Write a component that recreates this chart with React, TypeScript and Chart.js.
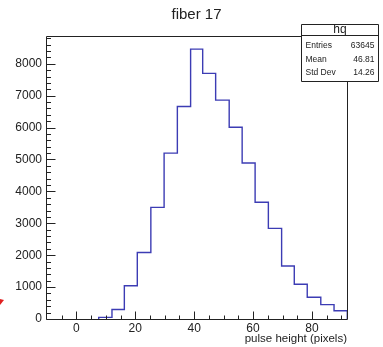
import React, { useEffect, useRef } from "react";
import { Chart, registerables } from "chart.js";

Chart.register(...registerables);

// ---- data ----
const chartTitle = "fiber 17";
const histName = "hq";
const xAxisTitle = "pulse height (pixels)";
const binEdges = [7.6, 12.1, 16.3, 20.7, 25.3, 29.8, 34.3, 38.8, 42.9, 47.3, 51.9, 56.3, 60.7, 65.2, 69.7, 74.0, 78.4, 83.0, 87.5, 92.0];
const binCounts = [50, 300, 1040, 2085, 3500, 5200, 6660, 8460, 7700, 6860, 6010, 4890, 3660, 2840, 1660, 1090, 680, 450, 260];
const xTickValues = [0, 20, 40, 60, 80];
const yTickValues = [0, 1000, 2000, 3000, 4000, 5000, 6000, 7000, 8000];
const statsLabels = ["Entries", "Mean", "Std Dev"];
const statsValues = ["63645", "46.81", "14.26"];

const X_MIN = -10.3;
const X_MAX = 91.9;
const Y_MAX = 8870;
const FONT = "'Liberation Sans', Arial, Helvetica, sans-serif";
const TEXT = "#222";
const LINE = "#222";

const rootPlugin = {
  id: "rootDecor",
  afterDatasetsDraw(chart: any) {
    const ctx = chart.ctx as CanvasRenderingContext2D;
    const xs = chart.scales.x;
    const ys = chart.scales.y;
    const { left, right, top, bottom } = chart.chartArea;
    const L = Math.round(left) + 0.5;
    const R = Math.round(right) + 0.5;
    const T = Math.round(top) + 0.5;
    const B = Math.round(bottom) + 0.5;
    ctx.save();
    ctx.strokeStyle = LINE;
    ctx.lineWidth = 1;
    // frame
    ctx.beginPath();
    ctx.rect(L, T, R - L, B - T);
    ctx.stroke();
    // y ticks (inward)
    ctx.beginPath();
    for (let v = 0; v <= Y_MAX; v += 200) {
      const y = Math.round(ys.getPixelForValue(v)) + 0.5;
      const len = v % 1000 === 0 ? 9 : 4.5;
      ctx.moveTo(L, y);
      ctx.lineTo(L + len, y);
    }
    // x ticks (inward)
    for (let v = -5; v <= X_MAX; v += 5) {
      const x = Math.round(xs.getPixelForValue(v)) + 0.5;
      const len = v % 20 === 0 ? 8 : 4;
      ctx.moveTo(x, B);
      ctx.lineTo(x, B - len);
    }
    ctx.stroke();

    // title
    ctx.fillStyle = TEXT;
    ctx.font = `15px ${FONT}`;
    ctx.textAlign = "center";
    ctx.textBaseline = "middle";
    ctx.fillText(chartTitle, (left + right) / 2, 15);

    // stats box
    const bx = 301.5, by = 24.5, bw = 77, bh = 57;
    ctx.fillStyle = "#fff";
    ctx.fillRect(bx, by, bw, bh);
    ctx.beginPath();
    ctx.rect(bx, by, bw, bh);
    ctx.moveTo(bx, 35.5);
    ctx.lineTo(bx + bw, 35.5);
    ctx.stroke();
    ctx.fillStyle = TEXT;
    ctx.font = `12px ${FONT}`;
    ctx.textAlign = "center";
    ctx.fillText(histName, bx + bw / 2, 29.5);
    ctx.font = `8.5px ${FONT}`;
    const rowY = [46, 59.5, 73];
    statsLabels.forEach((lab, i) => {
      ctx.textAlign = "left";
      ctx.fillText(lab, 305.5, rowY[i]);
      ctx.textAlign = "right";
      ctx.fillText(statsValues[i], 374.5, rowY[i]);
    });

    // small red mark at left edge
    ctx.fillStyle = "#e02020";
    ctx.beginPath();
    ctx.moveTo(0, 299);
    ctx.lineTo(4, 300);
    ctx.lineTo(0, 305);
    ctx.closePath();
    ctx.fill();
    ctx.restore();
  },
};

export default function App() {
  const ref = useRef<HTMLCanvasElement | null>(null);
  useEffect(() => {
    document.body.style.margin = "0";
    const canvas = ref.current!;
    const points: { x: number; y: number }[] = [{ x: binEdges[0], y: 0 }];
    binCounts.forEach((c, i) => points.push({ x: binEdges[i], y: c }));
    points.push({ x: binEdges[binEdges.length - 1], y: 0 });

    const chart = new Chart(canvas, {
      type: "line",
      data: {
        datasets: [
          {
            data: points,
            stepped: "before",
            borderColor: "#3c3cb4",
            borderWidth: 1.4,
            pointRadius: 0,
            fill: false,
          },
        ],
      },
      options: {
        animation: false,
        responsive: false,
        devicePixelRatio: 1,
        parsing: false,
        layout: { padding: { top: 36, right: 36, left: 0, bottom: 0 } },
        plugins: { legend: { display: false }, tooltip: { enabled: false }, title: { display: false } },
        scales: {
          x: {
            type: "linear",
            min: X_MIN,
            max: X_MAX,
            grid: { display: false, drawTicks: false },
            border: { display: false },
            afterBuildTicks: (s: any) => {
              s.ticks = xTickValues.map((v) => ({ value: v }));
            },
            afterFit: (s: any) => {
              s.height = 28;
            },
            ticks: {
              padding: 2,
              color: TEXT,
              font: { family: FONT, size: 12 },
              maxRotation: 0,
              autoSkip: false,
              callback: (v: any) => String(v),
            },
            title: {
              display: true,
              text: xAxisTitle,
              align: "end",
              color: TEXT,
              font: { family: FONT, size: 11.5 },
              padding: { top: 0, bottom: 1 },
            },
          },
          y: {
            type: "linear",
            min: 0,
            max: Y_MAX,
            grid: { display: false, drawTicks: false },
            border: { display: false },
            afterBuildTicks: (s: any) => {
              s.ticks = yTickValues.map((v) => ({ value: v }));
            },
            afterFit: (s: any) => {
              s.width = 46;
            },
            ticks: {
              padding: 4,
              color: TEXT,
              font: { family: FONT, size: 12 },
              autoSkip: false,
              callback: (v: any) => String(v),
            },
          },
        },
      },
      plugins: [rootPlugin],
    });
    return () => chart.destroy();
  }, []);
  return <canvas ref={ref} width={383} height={347} style={{ display: "block" }} />;
}
